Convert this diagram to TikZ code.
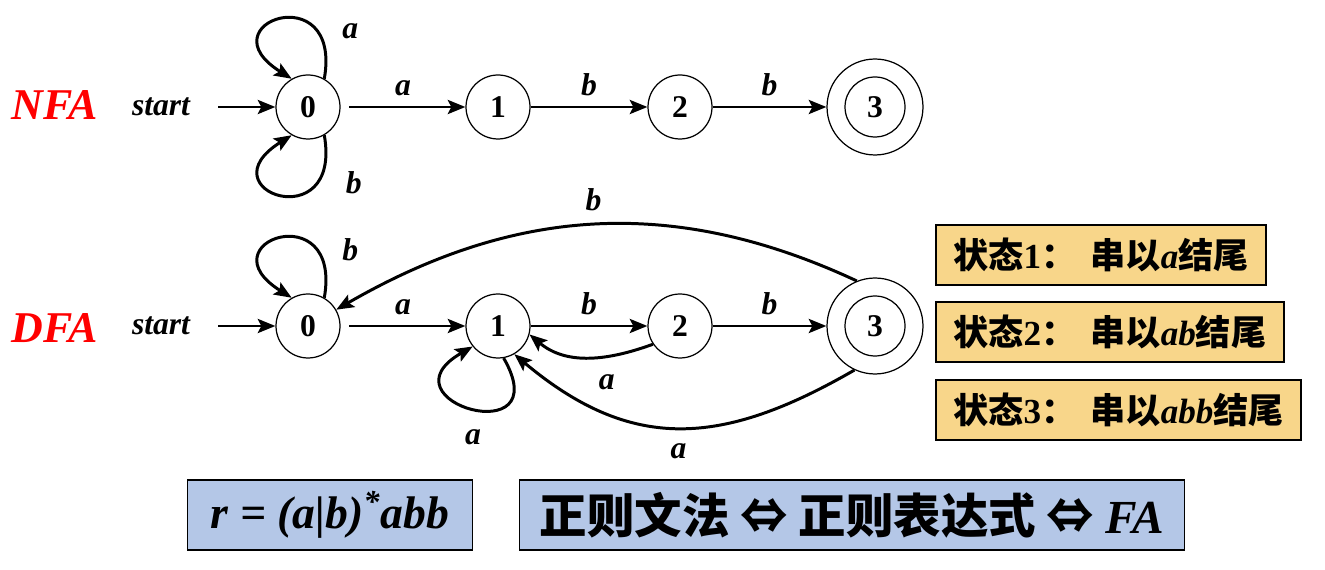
\documentclass[tikz,border=0pt]{standalone}
\usepackage{fontspec}
\setmainfont{Liberation Serif}
\newfontfamily\cjk{Noto Sans CJK SC}
\usetikzlibrary{arrows.meta}
\definecolor{noteorange}{RGB}{248,214,138}
\definecolor{noteblue}{RGB}{180,199,231}

\begin{document}
\begin{tikzpicture}[
  state/.style={circle,draw,line width=0.7pt,minimum size=1.28cm,inner sep=0pt,font=\fontsize{18}{18}\selectfont\bfseries},
  final/.style={circle,draw,line width=0.7pt,minimum size=1.92cm,inner sep=0pt},
  edge/.style={-{Stealth[length=10pt,width=8pt,inset=2pt]},line width=1.7pt},
  lbl/.style={font=\fontsize{18}{18}\selectfont\bfseries\itshape},
  title/.style={font=\fontsize{25}{25}\selectfont\bfseries\itshape,text=red},
  note/.style={draw,line width=1pt,fill=noteorange,anchor=west,minimum height=1.2cm,inner xsep=10pt,
    font=\cjk\bfseries\fontsize{20}{20}\selectfont},
  formula/.style={draw,line width=1pt,fill=noteblue,minimum height=1.4cm,inner sep=0pt},
  x=0.02cm,y=0.02cm
]
  \useasboundingbox (0,0) rectangle (1325,-570);

  % NFA
  \node[title] (nfa) at (55,-105) {NFA};
  \node[lbl] (nstart) at (161,-107) {start};
  \coordinate (nin) at (218,-107);
  \foreach \i/\xx in {0/308,1/498,2/680}
    \node[state] (n\i) at (\xx,-107) {\i};
  \node[final] (n3) at (875,-107) {};
  \node[state,minimum size=1.2cm] (n3in) at (n3) {3};

  \draw[edge] (nin) -- (n0);
  \draw[edge] (n0.60) to[out=80,in=148,min distance=2.1cm] node[pos=0.22,right=10pt,lbl]{a} (n0.120);
  \draw[edge] (n0.-60) to[out=-80,in=-148,min distance=2.1cm] node[pos=0.22,right=12pt,lbl]{b} (n0.-120);
  \draw[edge,shorten <=5pt] (n0) -- node[above=2pt,lbl]{a} (n1);
  \draw[edge] (n1) -- node[above=2pt,lbl]{b} (n2);
  \draw[edge] (n2) -- node[above=2pt,lbl]{b} (n3);

  % DFA
  \node[title] (dfa) at (55,-328) {DFA};
  \node[lbl] (dstart) at (161,-326) {start};
  \coordinate (din) at (218,-326);
  \foreach \i/\xx in {0/308,1/498,2/680}
    \node[state] (d\i) at (\xx,-326) {\i};
  \node[final] (d3) at (875,-326) {};
  \node[state,minimum size=1.2cm] (d3in) at (d3) {3};

  \draw[edge] (din) -- (d0);
  \draw[edge] (d0.60) to[out=80,in=148,min distance=2.1cm] node[pos=0.22,right=10pt,lbl]{b} (d0.120);
  \draw[edge,shorten <=5pt] (d0) -- node[above=2pt,lbl]{a} (d1);
  \draw[edge] (d1) -- node[above=2pt,lbl]{b} (d2);
  \draw[edge] (d2) -- node[above=2pt,lbl]{b} (d3);
  \draw[edge] (d1.-80) to[out=-60,in=-150,min distance=2.2cm] node[pos=0.5,below=8pt,lbl]{a} (d1.-141);
  \draw[edge] (d3.112) to[out=155,in=30] node[midway,above=4pt,lbl]{b} (d0.30);
  \draw[edge] (d2.214) to[out=200,in=-40] node[pos=0.35,below=6pt,lbl]{a} (d1.-15);
  \draw[edge] (d3.245) to[out=210,in=-40,looseness=1.15] node[midway,below=5pt,lbl]{a} (d1.-60);

  % notes
  \node[note] (s1) at (935,-255) {状态\textrm{1}：\hspace{8pt}串以\textrm{\textit{a}}结尾};
  \node[note] (s2) at (935,-332) {状态\textrm{2}：\hspace{8pt}串以\textrm{\textit{ab}}结尾};
  \node[note] (s3) at (935,-410) {状态\textrm{3}：\hspace{8pt}串以\textrm{\textit{abb}}结尾};

  % bottom
  \node[formula,minimum width=5.7cm,font=\fontsize{26}{26}\selectfont\bfseries\itshape] (re) at (330,-515)
    {r = (a|b)\textsuperscript{*}abb};
  \node[formula,minimum width=13.3cm,font=\cjk\bfseries\fontsize{27}{27}\selectfont] (eq) at (852,-515)
    {正则文法 ⇔ 正则表达式 ⇔ \textrm{\textit{FA}}};
\end{tikzpicture}
\end{document}
